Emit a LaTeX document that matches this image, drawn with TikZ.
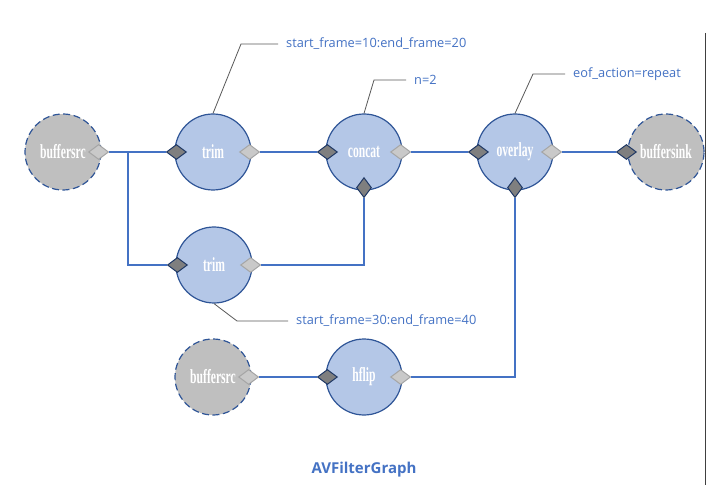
\documentclass[tikz,border=0pt]{standalone}
\usepackage{fontspec}
\setsansfont{Open Sans}
\newfontfamily\filterfont{Liberation Serif}
\newcommand\fname[1]{\scalebox{0.58}[1]{\bfseries #1}}
\usetikzlibrary{shapes.geometric,positioning}
\definecolor{filterfill}{RGB}{180,199,231}
\definecolor{filterline}{RGB}{47,85,151}
\definecolor{wireblue}{RGB}{68,114,196}
\definecolor{srcgray}{RGB}{191,191,191}
\definecolor{portdark}{RGB}{127,127,127}
\definecolor{portnavy}{RGB}{31,56,100}
\definecolor{portlight}{RGB}{201,201,201}
\definecolor{portedge}{RGB}{165,165,165}
\definecolor{notegray}{RGB}{89,89,89}

\begin{document}
\begin{tikzpicture}[x=1pt, y=-1pt,
    filter/.style={circle, draw=filterline, line width=1.2pt, fill=filterfill, minimum size=76pt, inner sep=0pt, text=white, font=\filterfont\fontsize{20}{20}\selectfont},
    ioend/.style={filter, fill=srcgray, dash pattern=on 7pt off 3.5pt},
    inport/.style={diamond, draw=portnavy, fill=portdark, line width=1pt, minimum width=20pt, minimum height=15pt, inner sep=0pt},
    outport/.style={inport, draw=portedge, fill=portlight},
    upport/.style={inport, minimum width=15pt, minimum height=20pt},
    wire/.style={draw=wireblue, line width=1.2pt},
    note/.style={draw=notegray, line width=0.8pt},
    notetext/.style={anchor=west, inner sep=0pt, text=wireblue, font=\sffamily\fontsize{12.8}{12.8}\selectfont}]

  \fill[white] (0,0) rectangle (707,497);
  \useasboundingbox (0,0) rectangle (707,497);
  \draw[black!75, line width=0.8pt] (705,33) -- (705,485);

  % filters
  \node[ioend] (srcA) at (63,152) {\fname{buffersrc}};
  \node[filter] (trimA) at (213,152) {\fname{trim}};
  \node[filter] (concat) at (364,152) {\fname{concat}};
  \node[filter] (overlay) at (515,152) {\fname{overlay}};
  \node[ioend] (sink) at (666,152) {\fname{buffersink}};
  \node[filter] (trimB) at (214,265) {\fname{trim}};
  \node[ioend] (srcB) at (213,377) {\fname{buffersrc}};
  \node[filter] (hflip) at (364,377) {\fname{hflip}};

  % pads
  \node[outport] (srcA-out) at ([xshift=-3pt]srcA.east) {};
  \node[inport] (trimA-in) at ([xshift=2pt]trimA.west) {};
  \node[outport] (trimA-out) at ([xshift=-2pt]trimA.east) {};
  \node[inport] (concat-in) at ([xshift=2pt]concat.west) {};
  \node[upport] (concat-in2) at ([yshift=3pt]concat.south) {};
  \node[outport] (concat-out) at ([xshift=-2pt]concat.east) {};
  \node[inport] (overlay-in) at ([xshift=2pt]overlay.west) {};
  \node[upport] (overlay-in2) at ([yshift=3pt]overlay.south) {};
  \node[outport] (overlay-out) at ([xshift=-2pt]overlay.east) {};
  \node[inport] (sink-in) at ([xshift=-1pt]sink.west) {};
  \node[inport] (trimB-in) at ([xshift=2pt]trimB.west) {};
  \node[outport] (trimB-out) at ([xshift=-2pt]trimB.east) {};
  \node[outport] (srcB-out) at ([xshift=-3pt]srcB.east) {};
  \node[inport] (hflip-in) at ([xshift=2pt]hflip.west) {};
  \node[outport] (hflip-out) at ([xshift=-2pt]hflip.east) {};

  % links
  \coordinate (split) at (128,152);
  \draw[wire] (srcA-out.east) -- (trimA-in.west);
  \draw[wire] (split) |- (trimB-in.west);
  \draw[wire] (trimA-out.east) -- (concat-in.west);
  \draw[wire] (trimB-out.east) -| (concat-in2.south);
  \draw[wire] (concat-out.east) -- (overlay-in.west);
  \draw[wire] (overlay-out.east) -- (sink-in.west);
  \draw[wire] (srcB-out.east) -- (hflip-in.west);
  \draw[wire] (hflip-out.east) -| (overlay-in2.south);

  % options
  \node[notetext] (trimA-note) at (286,44) {start\_frame=10:end\_frame=20};
  \node[notetext] (concat-note) at (414,80) {n=2};
  \node[notetext] (overlay-note) at (573,74) {eof\_action=repeat};
  \node[notetext] (trimB-note) at (296,321) {start\_frame=30:end\_frame=40};
  \draw[note] (trimA.north) -- (241,44) -- ([xshift=-8pt]trimA-note.west);
  \draw[note] (concat.north) -- (374,80) -- ([xshift=-8pt]concat-note.west);
  \draw[note] (overlay.north) -- (533,74) -- ([xshift=-8pt]overlay-note.west);
  \draw[note] (trimB.south) -- (237,321) -- ([xshift=-8pt]trimB-note.west);

  \node[text=wireblue, font=\sffamily\bfseries\fontsize{15}{15}\selectfont] (title) at (364,470) {AVFilterGraph};
\end{tikzpicture}
\end{document}
